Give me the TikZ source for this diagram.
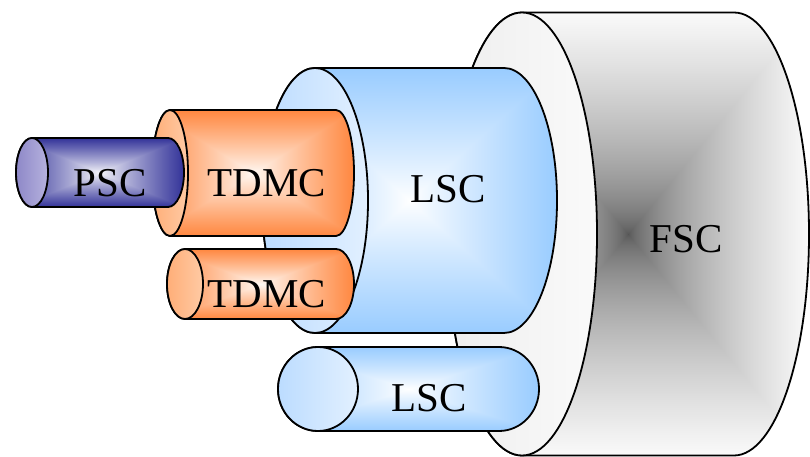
\documentclass[tikz,border=0pt]{standalone}
\usepackage{fontspec}
\setmainfont{Liberation Serif}
% rectangle ("square") gradient: center colour -> edge colour, #8 = exponent
\newcommand{\declrect}[8]{%
  \pgfdeclarefunctionalshading{#1}{\pgfpoint{0bp}{0bp}}{\pgfpoint{100bp}{100bp}}{}{%
    50 sub abs exch 50 sub abs 2 copy lt {exch} if pop 25 div dup 1 gt {pop 1} if
    #8 exp
    dup dup
    #5 mul #2 add 3 1 roll
    #6 mul #3 add exch
    #7 mul #4 add
  }}
\declrect{lscrect}{1}{1}{1}{-0.40}{-0.20}{0}{0.9}
\declrect{tdmcrect}{1}{0.98}{0.96}{0}{-0.45}{-0.71}{0.9}
\declrect{pscrect}{0.96}{0.96}{0.98}{-0.76}{-0.76}{-0.38}{0.9}
\declrect{fscrect}{0.33}{0.33}{0.33}{0.65}{0.65}{0.65}{0.6}
\definecolor{lscfaceL}{HTML}{BCDCFF}
\definecolor{lscfaceR}{HTML}{E2F0FF}
\definecolor{tdmcfaceL}{HTML}{FFAE78}
\definecolor{tdmcfaceR}{HTML}{FFCAA4}
\definecolor{pscfaceL}{HTML}{8E88C8}
\definecolor{pscfaceR}{HTML}{B6B2DE}
\definecolor{fscfaceL}{HTML}{EEEEEE}
\definecolor{fscfaceR}{HTML}{FAFAFA}
\tikzset{
  cylbody/.style={draw=black, line width=1.8pt, line join=round},
  cylface/.style={draw=black, line width=1.8pt},
  lbl/.style={anchor=base, inner sep=0pt, font=\fontsize{41}{41}\selectfont},
}
% #1 cx, #2 cy (image, y down), #3 rx, #4 ry, #5 right centre x, #6 shading, #7 face left, #8 face right
\newcommand{\cylinder}[8]{%
  \path[cylbody, shade, shading=#6] (#1,{457-#2+#4}) -- (#5,{457-#2+#4})
     arc[start angle=90, end angle=-90, x radius=#3pt, y radius=#4pt]
     -- (#1,{457-#2-#4})
     arc[start angle=270, end angle=90, x radius=#3pt, y radius=#4pt] -- cycle;
  \path[cylface, left color=#7, right color=#8] (#1,{457-#2}) ellipse[x radius=#3pt, y radius=#4pt];
}
\begin{document}
\begin{tikzpicture}[x=1pt, y=1pt]
\useasboundingbox (0,0) rectangle (810,457);
% FSC
\cylinder{522}{234}{75}{221.5}{734}{fscrect}{fscfaceL}{fscfaceR}
% LSC large
\cylinder{315}{200.5}{53}{132.5}{504}{lscrect}{lscfaceL}{lscfaceR}
% LSC small
\cylinder{318}{389}{40}{42}{499}{lscrect}{lscfaceL}{lscfaceR}
% TDMC upper
\cylinder{170}{173}{18}{63}{336}{tdmcrect}{tdmcfaceL}{tdmcfaceR}
% TDMC lower
\cylinder{185}{284}{18}{35}{336}{tdmcrect}{tdmcfaceL}{tdmcfaceR}
% PSC
\cylinder{32}{172.5}{16}{34.5}{168}{pscrect}{pscfaceL}{pscfaceR}
% labels
\node[lbl] (fsc) at (686,{457-253}) {FSC};
\node[lbl] (lsc1) at (448,{457-203}) {LSC};
\node[lbl] (lsc2) at (429,{457-412}) {LSC};
\node[lbl] (tdmc1) at (267,{457-197}) {TDMC};
\node[lbl] (tdmc2) at (267,{457-308}) {TDMC};
\node[lbl] (psc) at (110,{457-197}) {PSC};
\end{tikzpicture}
\end{document}
